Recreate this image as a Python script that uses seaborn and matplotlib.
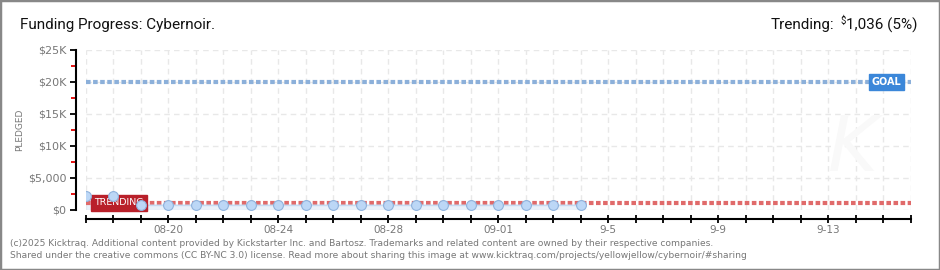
import matplotlib
matplotlib.use("Agg")
import matplotlib.pyplot as plt
from matplotlib.patches import Rectangle
from matplotlib.ticker import FixedLocator
import seaborn as sns
import pandas as pd

# ---- data ----
dates = pd.date_range("2025-08-17", "2025-09-04", freq="D")
pledged = [2100, 2100, 650, 650, 650, 650, 650, 650, 650, 650,
           650, 650, 650, 650, 650, 650, 650, 650, 650]
goal = 20000
trending = 1036
axis_start = "2025-08-17"
axis_end = "2025-09-16"
label_days = ["2025-08-20", "2025-08-24", "2025-08-28", "2025-09-01",
              "2025-09-05", "2025-09-09", "2025-09-13"]
label_texts = ["08-20", "08-24", "08-28", "09-01", "9-5", "9-9", "9-13"]
y_ticks = [0, 5000, 10000, 15000, 20000, 25000]
y_labels = ["$0", "$5,000", "$10K", "$15K", "$20K", "$25K"]

df = pd.DataFrame({"date": dates, "pledged": pledged})

sns.set_style("white")
plt.rcParams["font.family"] = ["DejaVu Sans"]

W, H = 940, 270
fig = plt.figure(figsize=(W / 100, H / 100), dpi=100)
fig.patch.set_facecolor("white")

left, right, top, bottom = 85.7, 910.7, 50, 209.5
ax = fig.add_axes([left / W, 1 - bottom / H, (right - left) / W, (bottom - top) / H])
ax.set_facecolor("white")

ax.set_xlim(pd.Timestamp(axis_start), pd.Timestamp(axis_end))
ax.set_ylim(0, 25000)

# grid
all_days = pd.date_range(axis_start, axis_end, freq="D")
for d in all_days:
    ax.axvline(d, color="#e8e8e8", lw=1, ls=(0, (4, 3)), zorder=0)
for yv in y_ticks:
    ax.axhline(yv, color="#e8e8e8", lw=1, ls=(0, (4, 3)), zorder=0)

# area under pledged
ax.fill_between(df["date"], df["pledged"], 0, color="#dde9f7", alpha=0.6, lw=0, zorder=1)

# goal / trending lines
ax.axhline(goal, color="#8cb0da", lw=3, ls=(0, (1.1, 0.6)), zorder=2)
ax.axhline(trending, color="#e06a6a", lw=3, ls=(0, (1.1, 0.6)), zorder=2)

# pledged line + markers
sns.lineplot(data=df, x="date", y="pledged", ax=ax, color="#c6dbf2", lw=1.2, zorder=3)
sns.scatterplot(data=df, x="date", y="pledged", ax=ax, s=50, color="#bcd7f6",
                edgecolor="#8fb2dc", linewidth=0.8, zorder=4)

# spines
for s in ["top", "right"]:
    ax.spines[s].set_visible(False)
ax.spines["left"].set_position(("outward", 7))
ax.spines["bottom"].set_position(("outward", 7))
for s in ["left", "bottom"]:
    ax.spines[s].set_color("black")
    ax.spines[s].set_linewidth(1.5)

ax.set_yticks(y_ticks)
ax.set_yticklabels(y_labels)
ax.yaxis.set_minor_locator(FixedLocator([2500, 7500, 12500, 17500, 22500]))
ax.tick_params(axis="y", which="major", length=4, width=1.3, color="black",
               labelsize=8, labelcolor="#777777", pad=3, left=True)
ax.tick_params(axis="y", which="minor", length=3.5, width=1.3, color="#e00000", left=True)

ax.set_xticks(all_days)
lab_map = dict(zip(pd.to_datetime(label_days), label_texts))
ax.set_xticklabels([lab_map.get(d, "") for d in all_days])
ax.tick_params(axis="x", which="major", length=6, width=1.3, color="black",
               direction="inout", labelsize=7.5, labelcolor="#777777", pad=1, bottom=True)
ax.set_xlabel("")
ax.set_ylabel("")
fig.text(20 / W, 1 - 130 / H, "PLEDGED", fontsize=6.5, color="#777777", rotation=90,
         ha="center", va="center")

# labels: GOAL and TRENDING
ax.annotate("GOAL", xy=(pd.Timestamp("2025-09-15 03:00"), goal), xycoords="data",
            ha="center", va="center", fontsize=7, color="white", fontweight="bold",
            bbox=dict(boxstyle="square,pad=0.3", fc="#3b87d9", ec="#3b87d9"), zorder=6)
ax.annotate("TRENDING", xy=(pd.Timestamp("2025-08-18 05:00"), trending), xycoords="data",
            ha="center", va="center", fontsize=6.8, color="white",
            bbox=dict(boxstyle="square,pad=0.35", fc="#b9202a", ec="#b9202a"), zorder=3.5)

# watermark
fig.text(853 / W, 1 - 150 / H, "K", fontsize=55, color="#f9f9f9", style="italic",
         ha="center", va="center", zorder=0)

# title
fig.text(20 / W, 1 - 25 / H, "Funding Progress: Cybernoir.", fontsize=11, color="#111111",
         ha="left", va="center", family=["Roboto", "DejaVu Sans"])

# trending (with superscript $)
fig.canvas.draw()
r = fig.canvas.get_renderer()
t_amt = fig.text(918 / W, 1 - 25 / H, "1,036 (5%)", fontsize=11, color="#111111",
                 ha="right", va="center", family=["Roboto", "DejaVu Sans"])
bb = t_amt.get_window_extent(r)
t_dol = fig.text((bb.x0 - 0.5) / W, 1 - 21 / H, "$", fontsize=7, color="#111111",
                 ha="right", va="center", family=["Roboto", "DejaVu Sans"])
bb2 = t_dol.get_window_extent(r)
fig.text((bb2.x0 - 6) / W, 1 - 25 / H, "Trending:", fontsize=11, color="#111111",
         ha="right", va="center", family=["Roboto", "DejaVu Sans"])

# footer
foot1 = ("(c)2025 Kicktraq. Additional content provided by Kickstarter Inc. and Bartosz. "
         "Trademarks and related content are owned by their respective companies.")
foot2 = ("Shared under the creative commons (CC BY-NC 3.0) license. Read more about sharing "
         "this image at www.kicktraq.com/projects/yellowjellow/cybernoir/#sharing")
fig.text(10 / W, 1 - 243 / H, foot1, fontsize=6.6, color="#777777", ha="left", va="center")
fig.text(10 / W, 1 - 256 / H, foot2, fontsize=6.6, color="#777777", ha="left", va="center")

# border
fig.add_artist(Rectangle((0, 0), 1, 1, transform=fig.transFigure, fill=False,
                         ec="#888888", lw=2.5))

fig.savefig("out.png", dpi=100, facecolor="white")
